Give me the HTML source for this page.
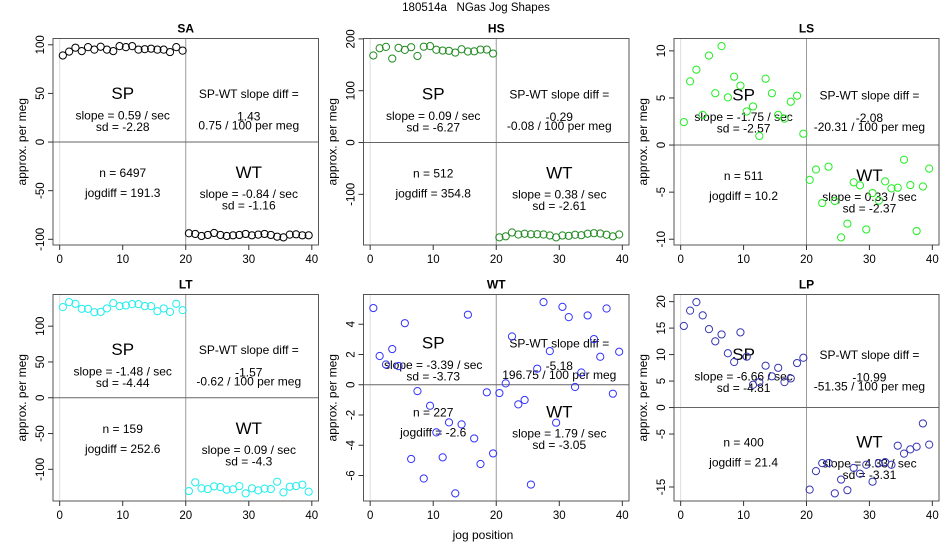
<!DOCTYPE html>
<html><head><meta charset="utf-8"><style>
body{margin:0;background:#fff;}
svg{display:block;font-family:"Liberation Sans",sans-serif;}
</style></head><body>
<svg id="chart" width="950" height="550" viewBox="0 0 950 550">
<text x="476" y="11" text-anchor="middle" font-size="11.5" style="white-space:pre">180514a   NGas Jog Shapes</text>
<text x="483" y="539" text-anchor="middle" font-size="12">jog position</text>
</svg>
<script>
const panelNames = ["SA","HS","LS","LT","WT","LP"];
const panelColors = ["#000000","#228b22","#22ee22","#22eeee","#3333ff","#3636b4"];
const saValues = [89,93,97,93.5,97.6,95,98,95,93.5,98.6,97.6,98.6,95,95.5,96,95,95,92.5,97.6,94,
 -93.8,-94.5,-96.6,-95.5,-93.5,-95.5,-96.6,-95.9,-95.5,-94.5,-95.9,-95.2,-94.5,-95.5,-97.3,-98,-95.2,-94.9,-95.9,-95.9];
const hsValues = [168,182,184.6,162,182.6,178.8,184,167,185,186,179,177.5,177,173.6,180,175.6,176,179.4,179.4,171.7,
 -183,-181,-173.6,-177.5,-176,-177,-177,-177.5,-179.4,-183,-179.4,-180,-178,-178.8,-176,-175,-175.6,-178,-181,-177.5];
const lsValues = [2.44,6.76,8.0,3.2,9.5,5.5,10.5,5.06,7.26,6.3,3.57,4.1,0.96,7.04,5.5,3.2,2.8,4.6,5.24,1.2,
 -3.7,-2.6,-6.16,-2.3,-5.95,-9.8,-8.35,-3.96,-4.28,-8.96,-5.1,-5.9,-3.86,-4.6,-4.53,-1.56,-4.25,-9.13,-4.4,-2.5];
const ltValues = [126.6,133.6,131.3,124.3,124.3,119.6,120,124.8,132.2,128,129,130.8,130.8,128,128,121,124.8,120,131.3,122.4,
 -130.4,-118.2,-126.6,-127.6,-123.8,-124.8,-128.5,-128,-123.4,-133.6,-126.6,-129.4,-127,-127.6,-117.3,-132.2,-124.3,-123.4,-121.5,-131.3];
const wtValues = [5.07,1.9,1.34,2.36,1.23,4.07,-4.91,-0.42,-6.2,-1.39,-3.15,-4.8,-2.49,-7.18,-2.62,4.63,-3.55,-5.24,-0.5,-4.54,
 -0.55,0.09,3.19,-1.3,-1.01,-6.6,1.06,5.46,2.22,-2.51,5.15,4.47,-0.15,0.81,4.58,3.02,1.85,5.04,-0.59,2.18];
const lpValues = [15.4,18.3,19.9,17.4,14.8,12.5,13.8,10.25,8.6,14.2,9.6,4.3,4.8,7.9,5.9,7.5,4.8,5.5,8.4,9.4,
 -15.5,-12,-10.5,-10.5,-16.2,-13.6,-15.6,-11.4,-12.5,-10.8,-14,-10.5,-10.3,-10.8,-7.2,-8.7,-7.9,-7.4,-3,-7];
const seriesValues = [saValues,hsValues,lsValues,ltValues,wtValues,lpValues];
const yTickLabels = [[-100,-50,0,50,100],[-100,0,100,200],[-10,-5,0,5,10],[-100,-50,0,50,100],[-6,-4,-2,0,2,4],[-15,-5,0,5,10,15,20]];
const xTickLabels = [0,10,20,30,40];
const spSlope = ["0.59","0.09","-1.75","-1.48","-3.39","-6.66"];
const spSd = ["-2.28","-6.27","-2.57","-4.44","-3.73","-4.81"];
const slopeDiff = ["1.43","-0.29","-2.08","-1.57","-5.18","-10.99"];
const perMeg = ["0.75","-0.08","-20.31","-0.62","196.75","-51.35"];
const nValues = ["6497","512","511","159","227","400"];
const jogDiff = ["191.3","354.8","10.2","252.6","-2.6","21.4"];
const wtSlope = ["-0.84","0.38","0.33","0.09","1.79","4.33"];
const wtSd = ["-1.16","-2.61","-2.37","-4.3","-3.05","-3.31"];
const bottomOffset = [31,31,31,31,28,35];

const NS="http://www.w3.org/2000/svg";
const svg=document.getElementById('chart');
const colL=[53,363.5,674], colR=[318.5,629,939], rowT=[38.5,294.5], rowB=[245,501];
function mk(tag,attrs,parent){const e=document.createElementNS(NS,tag);for(const k in attrs)e.setAttribute(k,attrs[k]);(parent||svg).appendChild(e);return e;}
function txt(x,y,s,size,parent,extra){const t=mk('text',Object.assign({x:x,y:y,'text-anchor':'middle','font-size':size},extra||{}),parent);t.textContent=s;return t;}

panelNames.forEach((name,p)=>{
  const L=colL[p%3],R=colR[p%3],T=rowT[Math.floor(p/3)],B=rowB[Math.floor(p/3)];
  const vals=seriesValues[p];
  const xs=vals.map((v,i)=>i+0.5);
  const xmin=Math.min(...xs),xmax=Math.max(...xs),xe=(xmax-xmin)*0.04;
  const ymin=Math.min(...vals),ymax=Math.max(...vals),ye=(ymax-ymin)*0.04;
  const X0=xmin-xe,X1=xmax+xe,Y0=ymin-ye,Y1=ymax+ye;
  const sx=v=>L+(v-X0)/(X1-X0)*(R-L);
  const sy=v=>B-(v-Y0)/(Y1-Y0)*(B-T);
  const g=mk('g',{});
  
  
  const title=txt((L+R)/2,T-6,name,12,g,{'font-weight':'bold'});
  
  
  const zl=mk('line',{x1:sx(0),x2:sx(0),y1:T,y2:B,stroke:'#dddddd','stroke-width':1},g);
  
  
  const ml=mk('line',{x1:sx(20),x2:sx(20),y1:T,y2:B,stroke:'#999999','stroke-width':1},g);
  
  
  const hl=mk('line',{x1:L,x2:R,y1:sy(0),y2:sy(0),stroke:'#666666','stroke-width':1},g);
  
  
  const box=mk('rect',{x:L,y:T,width:R-L,height:B-T,fill:'none',stroke:'#555555','stroke-width':1},g);
  
  
  xTickLabels.forEach(v=>{
    const tk=mk('line',{x1:sx(v),x2:sx(v),y1:B,y2:B+5,stroke:'#333','stroke-width':1},g);
    
    
    const tl=txt(sx(v),B+18,String(v),11.5,g);
    
    
  });
  yTickLabels[p].forEach(v=>{
    const y=sy(v);
    const tk=mk('line',{x1:L-5,x2:L,y1:y,y2:y,stroke:'#333','stroke-width':1},g);
    
    
    const tl=txt(L-9,y,String(v),11.5,g,{transform:'rotate(-90 '+(L-9)+' '+y+')'});
    
    
  });
  const yt=txt(L-27,(T+B)/2,'approx. per meg',12,g,{transform:'rotate(-90 '+(L-27)+' '+((T+B)/2)+')'});
  
  
  const yTop=sy(ymax/2)+5, yBot=sy(0)+bottomOffset[p]+5;
  const xl=sx(10), xr=sx(30);
  const ann=[[xl,yTop,'SP',17],[xl,yTop+20.5,'slope = '+spSlope[p]+' / sec',12],[xl,yTop+32,'sd = '+spSd[p],12],
    [xr,yTop-1,'SP-WT slope diff =',12],[xr,yTop+21.5,slopeDiff[p],12],[xr,yTop+30.5,perMeg[p]+' / 100 per meg',12],
    [xl,yBot-1,'n = '+nValues[p],12],[xl,yBot+19,'jogdiff = '+jogDiff[p],12],
    [xr,yBot,'WT',17],[xr,yBot+20,'slope = '+wtSlope[p]+' / sec',12],[xr,yBot+31.5,'sd = '+wtSd[p],12]];
  ann.forEach(a=>{
    const t=txt(a[0],a[1],a[2],a[3],g);
    
    
  });
  vals.forEach((v,i)=>{
    const c=mk('circle',{cx:sx(xs[i]),cy:sy(v),r:3.6,fill:'none',stroke:panelColors[p],'stroke-width':1},g);
    
    
  });
});
</script>
</body></html>
